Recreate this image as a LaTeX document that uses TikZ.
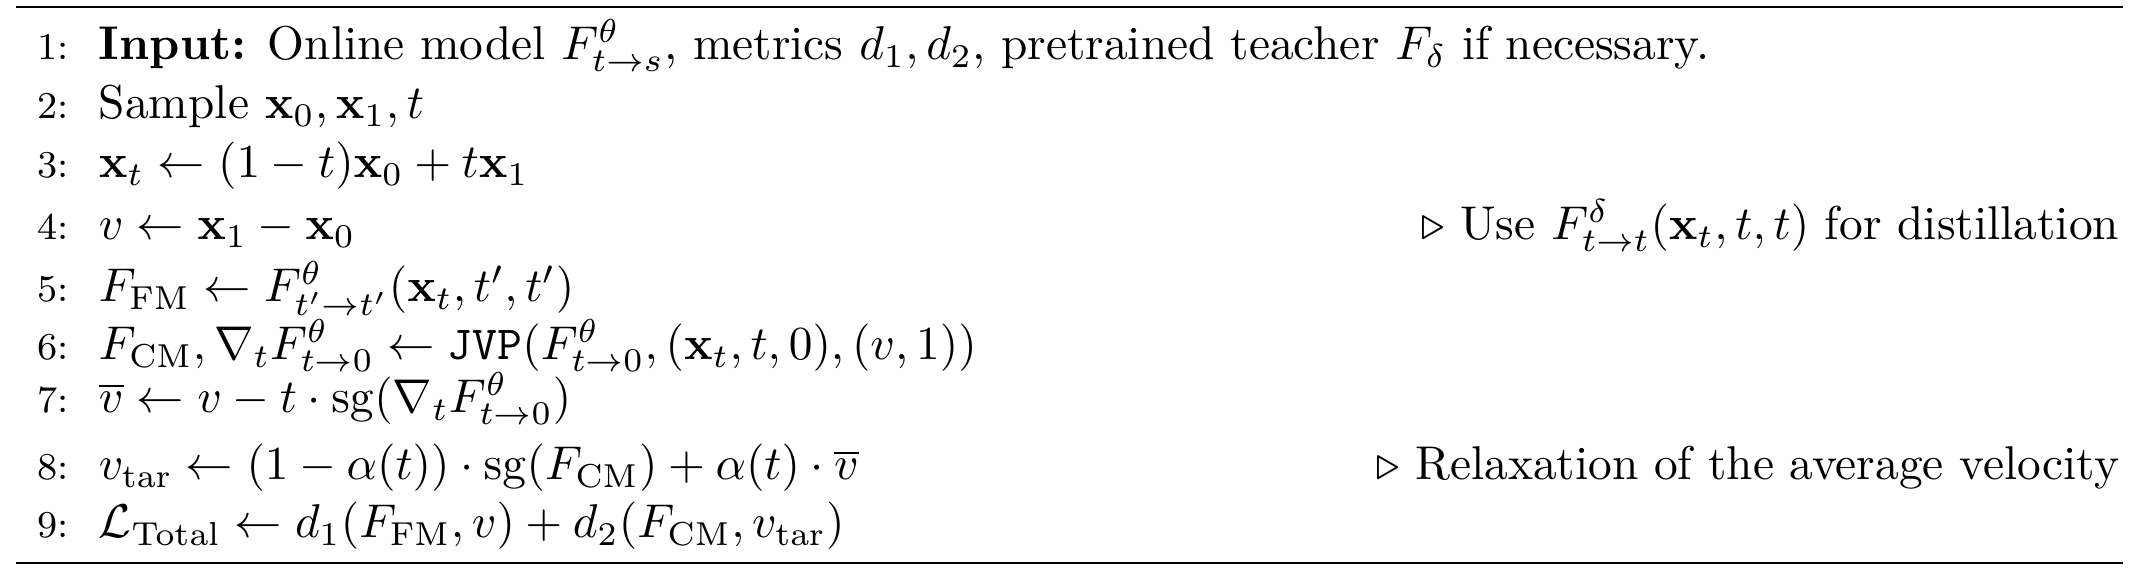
\documentclass[tikz,border=0pt]{standalone}
\usepackage{amsmath,amssymb}
\begin{document}
\begin{tikzpicture}[x=0.2110pt,y=-0.2110pt,
  num/.style={anchor=base east,inner sep=0pt,font=\footnotesize},
  code/.style={anchor=base west,inner sep=0pt},
  cmt/.style={anchor=base east,inner sep=0pt}]
\useasboundingbox (0,0) rectangle (2142,578);
\coordinate (tl) at (16,7);
\coordinate (tr) at (2123,7);
\coordinate (bl) at (16,563);
\coordinate (br) at (2123,563);
\draw[line width=0.45pt] (tl) -- (tr);
\draw[line width=0.55pt] (bl) -- (br);
\node[num] (n1) at (70,60) {1:};
\node[code] (l1) at (98,60) {\textbf{Input:} Online model $F^\theta_{t\to s}$, metrics $d_1,d_2$, pretrained teacher $F_\delta$ if necessary.};
\node[num] (n2) at (70,119) {2:};
\node[code] (l2) at (98,119) {Sample $\mathbf{x}_0,\mathbf{x}_1,t$};
\node[num] (n3) at (70,178) {3:};
\node[code] (l3) at (98,178) {$\mathbf{x}_t\leftarrow(1-t)\mathbf{x}_0+t\mathbf{x}_1$};
\node[num] (n4) at (70,240) {4:};
\node[code] (l4) at (98,240) {$v\leftarrow\mathbf{x}_1-\mathbf{x}_0$};
\node[cmt] (c4) at (2120,240) {$\triangleright$ Use $F^\delta_{t\to t}(\mathbf{x}_t,t,t)$ for distillation};
\node[num] (n5) at (70,302) {5:};
\node[code] (l5) at (98,302) {$F_{\mathrm{FM}}\leftarrow F^\theta_{t'\to t'}(\mathbf{x}_t,t',t')$};
\node[num] (n6) at (70,360) {6:};
\node[code] (l6) at (98,360) {$F_{\mathrm{CM}},\nabla_tF^\theta_{t\to0}\leftarrow\texttt{JVP}(F^\theta_{t\to0},(\mathbf{x}_t,t,0),(v,1))$};
\node[num] (n7) at (70,413) {7:};
\node[code] (l7) at (98,413) {$\overline{v}\leftarrow v-t\cdot\mathrm{sg}(\nabla_tF^\theta_{t\to0})$};
\node[num] (n8) at (70,480) {8:};
\node[code] (l8) at (98,480) {$v_{\mathrm{tar}}\leftarrow(1-\alpha(t))\cdot\mathrm{sg}(F_{\mathrm{CM}})+\alpha(t)\cdot\overline{v}$};
\node[cmt] (c8) at (2120,480) {$\triangleright$ Relaxation of the average velocity};
\node[num] (n9) at (70,538) {9:};
\node[code] (l9) at (98,538) {$\mathcal{L}_{\mathrm{Total}}\leftarrow d_1(F_{\mathrm{FM}},v)+d_2(F_{\mathrm{CM}},v_{\mathrm{tar}})$};
\end{tikzpicture}
\end{document}
